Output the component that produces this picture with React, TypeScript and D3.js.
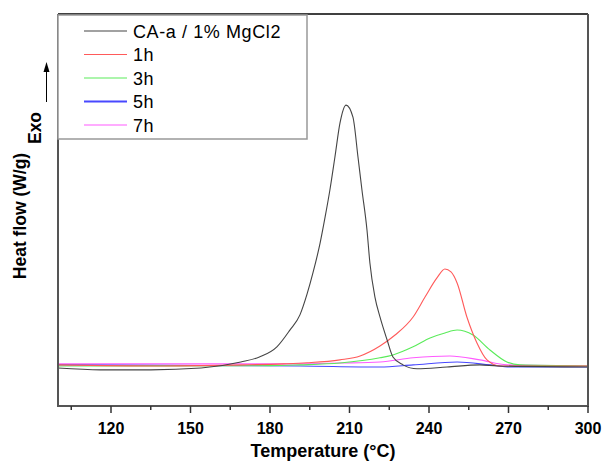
import React from 'react';
import * as d3 from 'd3';

// DSC curves, temperature (°C) vs heat flow (arbitrary units, exo up)
const seriesNames = ['CA-a / 1% MgCl2', '1h', '3h', '5h', '7h'];
const seriesColors = ['#444444', '#ff5a5a', '#5aeb5a', '#4848ff', '#ff5aff'];

const caTemps = [100, 116, 135, 154, 169, 176, 182.6, 187.5, 191.3, 194, 196.2, 198.9, 200.8, 202.6, 204.5, 206.4, 208.7, 211.3, 213.2, 214.7, 216.6, 217.7, 219.6, 221.5, 224.2, 226.4, 230.2, 235.5, 246.8, 259.2, 265.7, 300];
const caValues = [-0.8, -1.5, -1.5, -0.8, 1.5, 3.4, 7.3, 13.7, 19.5, 27.5, 35.5, 46.9, 56.9, 67.2, 79.8, 92.7, 99.6, 95, 79.8, 67.2, 51.9, 39.3, 26.3, 18.7, 9.9, 3.4, 0.4, -1.1, -0.4, 0.4, 0, -0.4];

const h1Temps = [100, 138.5, 170, 185, 194, 206.4, 214, 221.5, 227.2, 234, 238.5, 243, 246, 248.3, 250.6, 254.3, 258.1, 261.9, 266.8, 300];
const h1Values = [0.4, 0, 0.4, 0.8, 1.2, 2.3, 3.8, 7.6, 11.8, 18.7, 26.3, 33.6, 37, 35.9, 31.7, 18.7, 8.8, 2.3, 0, 0];

const h3Temps = [100, 180, 191.3, 206.4, 221.5, 226.4, 234, 240.4, 246, 250.6, 256.6, 263, 269.4, 274.3, 300];
const h3Values = [0, 0.1, 0.4, 1.1, 3.1, 4.2, 7.3, 10.7, 12.6, 13.7, 11.8, 6.1, 1.5, 0.4, 0];

const h5Temps = [100, 191.3, 221.5, 234, 250.6, 263, 270.6, 300];
const h5Values = [0.4, 0, -0.4, 0.4, 1.5, 0.4, -0.4, -0.4];

const h7Temps = [100, 191.3, 206.4, 221.5, 234, 247.9, 259.2, 269.4, 300];
const h7Values = [0.8, 0.8, 1.1, 1.5, 3.1, 3.8, 2.3, 0.4, 0];

const allTemps = [caTemps, h1Temps, h3Temps, h5Temps, h7Temps];
const allValues = [caValues, h1Values, h3Values, h5Values, h7Values];

const majorTicks = [120, 150, 180, 210, 240, 270, 300];
const minorTicks = [105, 135, 165, 195, 225, 255, 285];

const W = 603;
const H = 463;
const left = 58;
const right = 588;
const top = 14;
const bottom = 406;

export default function App() {
  const x = d3.scaleLinear().domain([100, 300]).range([left, right]);
  const y = d3.scaleLinear().domain([-15.3, 134.4]).range([bottom, top]);

  const line = d3
    .line<[number, number]>()
    .x(d => x(d[0]))
    .y(d => y(d[1]))
    .curve(d3.curveMonotoneX);

  // draw order: coloured curves first, black on top
  const order = [4, 3, 2, 1, 0];
  const font = "'Liberation Sans', Arial, sans-serif";

  return (
    <svg width={W} height={H} style={{ position: 'absolute', left: 0, top: 0, background: '#fff' }}>
      <rect x={0} y={0} width={W} height={H} fill="#fff" />
      {order.map(i => {
        const pts = allTemps[i].map((t, k) => [t, allValues[i][k]] as [number, number]);
        return (
          <path key={i} d={line(pts) || ''} fill="none" stroke={seriesColors[i]} strokeWidth={1.1} />
        );
      })}

      {/* frame */}
      <line x1={left} x2={right} y1={top} y2={top} stroke="#000" strokeWidth={1.5} />
      <line x1={left} x2={left} y1={top} y2={bottom} stroke="#555" strokeWidth={2} />
      <line x1={right} x2={right} y1={top} y2={bottom} stroke="#555" strokeWidth={2} />
      <line x1={left - 1} x2={right + 1} y1={bottom} y2={bottom} stroke="#555" strokeWidth={2} />

      {majorTicks.map(t => (
        <g key={t}>
          <line x1={x(t)} x2={x(t)} y1={bottom} y2={bottom + 7} stroke="#333" strokeWidth={1.5} />
          <text x={x(t)} y={433.5} textAnchor="middle" fontFamily={font} fontWeight="bold" fontSize={16} fill="#000">
            {t}
          </text>
        </g>
      ))}
      {minorTicks.map(t => (
        <line key={t} x1={x(t)} x2={x(t)} y1={bottom} y2={bottom + 4} stroke="#333" strokeWidth={1.5} />
      ))}

      <text x={(left + right) / 2} y={457} textAnchor="middle" fontFamily={font} fontWeight="bold" fontSize={18} fill="#000">
        Temperature (°C)
      </text>

      <text transform="translate(26,216) rotate(-90)" textAnchor="middle" fontFamily={font} fontWeight="bold" fontSize={17.5} fill="#000">
        Heat flow (W/g)
      </text>
      <text transform="translate(41,128) rotate(-90)" textAnchor="middle" fontFamily={font} fontWeight="bold" fontSize={17.5} fill="#000">
        Exo
      </text>
      <line x1={46.5} x2={46.5} y1={102} y2={70} stroke="#000" strokeWidth={1} />
      <path d="M46.5,62 L43.5,72 L49.5,72 Z" fill="#000" />

      {/* legend */}
      <rect x={left} y={top + 1} width={307 - left} height={139 - top - 1} fill="#fff" stroke="#999" strokeWidth={1.5} />
      {seriesNames.map((name, i) => {
        const cy = 31 + i * 23.5;
        return (
          <g key={name}>
            <line x1={84} x2={127} y1={cy} y2={cy} stroke={seriesColors[i]} strokeWidth={i === 3 ? 2 : 1.2} />
            <text x={133} y={cy + 6.5} fontFamily={font} fontSize={18} letterSpacing={0.6} fill="#000">
              {name}
            </text>
          </g>
        );
      })}
    </svg>
  );
}
